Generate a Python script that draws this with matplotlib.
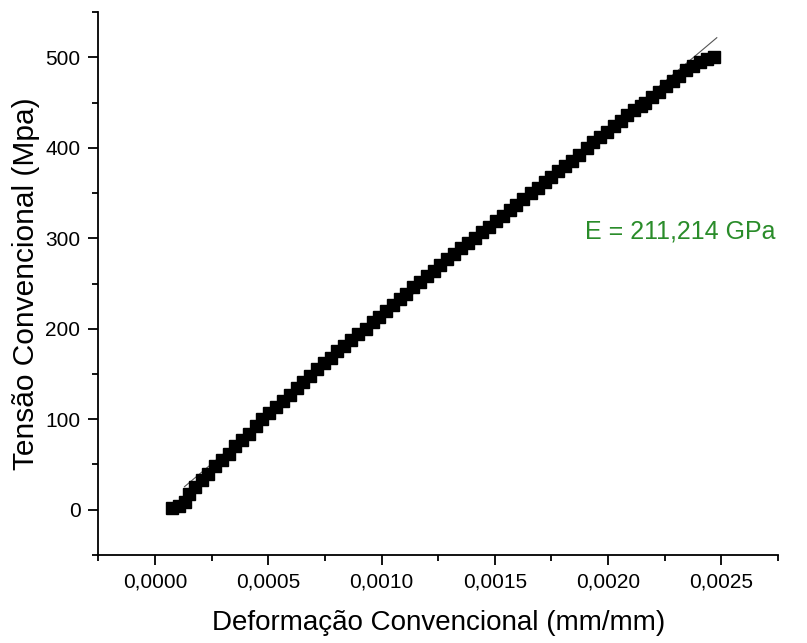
import matplotlib
matplotlib.use("Agg")
from matplotlib import pyplot as plt
from matplotlib.ticker import MultipleLocator, FuncFormatter

plt.rcParams['font.family'] = ['Liberation Sans', 'DejaVu Sans']

deformacao = [0.000075, 0.000105, 0.000130, 0.000150, 0.000175, 0.000205, 0.000235,
              0.000265, 0.000295, 0.000325, 0.000355, 0.000385, 0.000415, 0.000445,
              0.000474, 0.000505, 0.000535, 0.000565, 0.000595, 0.000625, 0.000655,
              0.000685, 0.000715, 0.000745, 0.000775, 0.000805, 0.000835, 0.000865,
              0.000895, 0.000931, 0.000960, 0.000990, 0.001020, 0.001050, 0.001080,
              0.001110, 0.001140, 0.001170, 0.001200, 0.001230, 0.001260, 0.001290,
              0.001320, 0.001350, 0.001380, 0.001414, 0.001445, 0.001475, 0.001505,
              0.001535, 0.001565, 0.001595, 0.001625, 0.001660, 0.001690, 0.001720,
              0.001750, 0.001780, 0.001810, 0.001840, 0.001870, 0.001905, 0.001935,
              0.001965, 0.001995, 0.002025, 0.002055, 0.002085, 0.002115, 0.002145,
              0.002165, 0.002195, 0.002225, 0.002255, 0.002285, 0.002315, 0.002345,
              0.002375, 0.002405, 0.002435, 0.002469]
tensao = [2, 4, 9, 17, 25, 33, 40,
          48, 55, 62, 70, 77, 84, 92,
          100, 107, 113, 120, 127, 134, 141,
          148, 155, 162, 168, 175, 181, 188,
          194, 200, 207, 213, 220, 226, 233,
          239, 246, 252, 258, 264, 270, 277,
          283, 289, 295, 300, 307, 313, 319,
          325, 331, 337, 343, 350, 356, 362,
          368, 374, 380, 386, 392, 400, 406,
          412, 418, 424, 430, 436, 442, 446,
          450, 456, 462, 468, 474, 480, 486,
          491, 495, 498, 500]

# ajuste linear (módulo de elasticidade)
E_mpa = 211214
intercepto = -2
ajuste_x = [0.00013, 0.00248]

fig = plt.figure(figsize=(8.07, 6.43), dpi=100)
ax = fig.add_axes([0.122, 0.137, 0.842, 0.844])

ax.plot(deformacao, tensao, linestyle='none', marker='s', markersize=9,
        color='black', zorder=2)
ajuste_y = [E_mpa * v + intercepto for v in ajuste_x]
ax.plot(ajuste_x, ajuste_y, color='#555555', linewidth=0.8, zorder=1)

ax.text(0.0019, 308, 'E = 211,214 GPa', color='#2a8c2a', fontsize=18,
        ha='left', va='center')

ax.set_xlim(-0.00025, 0.00275)
ax.set_ylim(-50, 550)

ax.xaxis.set_major_locator(MultipleLocator(0.0005))
ax.xaxis.set_minor_locator(MultipleLocator(0.00025))
ax.yaxis.set_major_locator(MultipleLocator(100))
ax.yaxis.set_minor_locator(MultipleLocator(50))
ax.xaxis.set_major_formatter(FuncFormatter(lambda v, p: '{:.4f}'.format(v).replace('.', ',').replace('-0,0000', '0,0000')))

for s in ['top', 'right']:
    ax.spines[s].set_visible(False)
for s in ['left', 'bottom']:
    ax.spines[s].set_linewidth(1.3)

ax.tick_params(which='major', length=7, width=1.3, labelsize=15, pad=6)
ax.tick_params(which='minor', length=4, width=1.3)

ax.set_xlabel('Deformação Convencional (mm/mm)', fontsize=20, labelpad=13)
ax.set_ylabel('Tensão Convencional (Mpa)', fontsize=21.5, labelpad=4)

fig.savefig('out.png', dpi=100)
